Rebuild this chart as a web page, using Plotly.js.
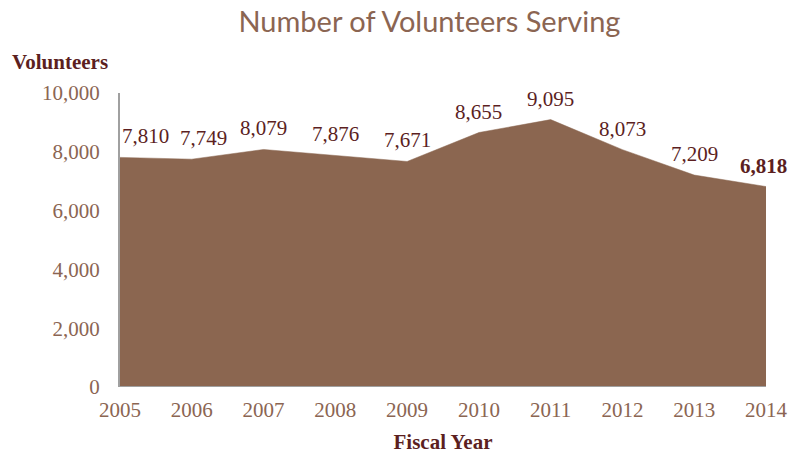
<!DOCTYPE html>
<html><head><meta charset="utf-8">
<script src="https://cdn.plot.ly/plotly-3.0.1.min.js"></script>
<style>html,body{margin:0;padding:0;background:#fff}#chart{width:788px;height:456px}</style>
</head><body><div id="chart"></div>
<script>
const years = [2005, 2006, 2007, 2008, 2009, 2010, 2011, 2012, 2013, 2014];
const volunteers = [7810, 7749, 8079, 7876, 7671, 8655, 9095, 8073, 7209, 6818];
const yTicks = [0, 2000, 4000, 6000, 8000, 10000];
const yTickText = ['0', '2,000', '4,000', '6,000', '8,000', '10,000'];

const fillColor = '#8B6650';
const labelColor = '#5C1F1F';
const tickColor = '#8B6552';
const serif = 'Liberation Serif, Times New Roman, serif';

const fmt = v => v.toLocaleString('en-US');

const annotations = years.map((yr, i) => {
  const last = i === years.length - 1;
  const first = i === 0;
  return {
    x: yr, y: volunteers[i], xref: 'x', yref: 'y',
    text: last ? '<b>' + fmt(volunteers[i]) + '</b>' : fmt(volunteers[i]),
    showarrow: false, yshift: 21,
    xshift: i === 1 ? 12 : (last ? -3 : 0),
    xanchor: first ? 'left' : 'center',
    font: {family: serif, size: 21, color: labelColor}
  };
});
annotations.push({
  xref: 'paper', yref: 'paper', x: -0.171, y: 1.105, xanchor: 'left', yanchor: 'middle',
  text: '<b>Volunteers</b>', showarrow: false,
  font: {family: serif, size: 21, color: labelColor}
});

const trace = {
  x: years, y: volunteers, type: 'scatter', mode: 'lines',
  fill: 'tozeroy', fillcolor: fillColor, line: {color: fillColor, width: 0.5},
  hoverinfo: 'skip'
};

const layout = {
  width: 788, height: 456,
  margin: {l: 120, r: 22, t: 93, b: 69},
  paper_bgcolor: '#fff', plot_bgcolor: '#fff',
  showlegend: false,
  title: {text: 'Number of Volunteers Serving', x: 0.545, xanchor: 'center', y: 0.952, yanchor: 'middle',
    font: {family: 'Lato, Open Sans, sans-serif', size: 29, color: tickColor}},
  xaxis: {
    range: [2005, 2014], tickvals: years, ticktext: years.map(String),
    showgrid: false, zeroline: false, showline: false, ticks: '',
    ticklabelstandoff: 8,
    tickfont: {family: serif, size: 21, color: tickColor},
    title: {text: '<b>Fiscal Year</b>', standoff: 13,
      font: {family: serif, size: 21, color: labelColor}}
  },
  yaxis: {
    range: [0, 10000], tickvals: yTicks, ticktext: yTickText,
    showgrid: false, zeroline: false, showline: true, linecolor: '#A0A0A0', linewidth: 2,
    ticks: '', ticklen: 0, ticklabelstandoff: 14,
    tickfont: {family: serif, size: 21, color: tickColor}
  },
  shapes: [{type: 'line', xref: 'paper', yref: 'y', x0: 0, x1: 1, y0: 0, y1: 0,
    line: {color: '#A0A0A0', width: 2}}],
  annotations: annotations
};

Plotly.newPlot('chart', [trace], layout, {displayModeBar: false, staticPlot: true});
</script></body></html>
